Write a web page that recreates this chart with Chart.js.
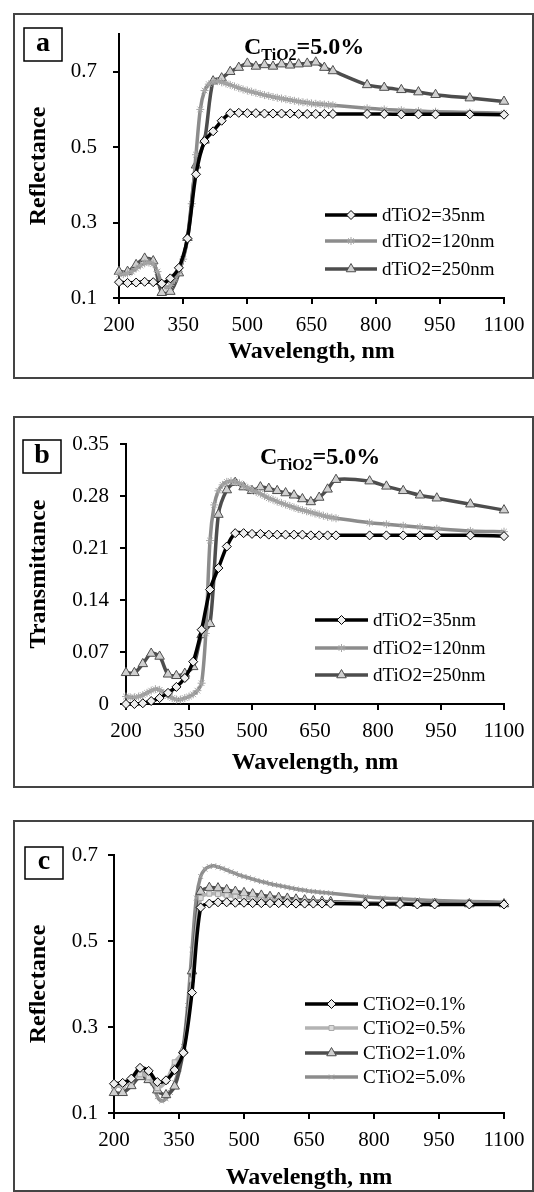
<!DOCTYPE html>
<html>
<head>
<meta charset="utf-8">
<script src="https://cdn.jsdelivr.net/npm/chart.js@4.4.1/dist/chart.umd.min.js"></script>
<style>
  body { margin: 0; background: #fff; }
  #page { position: relative; width: 534px; height: 1192px; overflow: hidden; }
  .frame { position: absolute; border: 2px solid #444; box-sizing: border-box; }
  canvas { position: absolute; left: 0; }
</style>
</head>
<body>
<div id="page">
  <div class="frame" style="left:13px;top:13px;width:521px;height:366px"></div>
  <div class="frame" style="left:13px;top:416px;width:521px;height:372px"></div>
  <div class="frame" style="left:13px;top:820px;width:521px;height:372px"></div>
  <canvas id="chartA" width="534" height="395" style="top:0"></canvas>
  <canvas id="chartB" width="534" height="405" style="top:395px"></canvas>
  <canvas id="chartC" width="534" height="392" style="top:800px"></canvas>
</div>
<script>
// wavelengths (nm)
const wl = [200, 220, 240, 260, 280, 300, 320, 340, 360, 380, 400, 420, 440, 460, 480, 500,
  520, 540, 560, 580, 600, 620, 640, 660, 680, 700, 780, 820, 860, 900, 940, 1020, 1100];
const wlFine = [200, 210, 220, 230, 240, 250, 260, 270, 280, 290, 300, 310, 320, 330, 340, 350,
  360, 370, 380, 390, 400, 410, 420, 430, 440, 450, 460, 470, 480, 490, 500, 510, 520, 530, 540,
  550, 560, 570, 580, 590, 600, 610, 620, 630, 640, 650, 660, 670, 680, 690, 700,
  780, 820, 860, 900, 940, 1020, 1100];
const xTicks = [200, 350, 500, 650, 800, 950, 1100];

// (a) reflectance, C = 5.0 %
const refl35 = [0.142, 0.140, 0.141, 0.143, 0.142, 0.138, 0.152, 0.180, 0.258, 0.428, 0.516, 0.542,
  0.570, 0.590, 0.591, 0.590, 0.590, 0.589, 0.589, 0.589, 0.589, 0.588, 0.588, 0.588, 0.588, 0.588,
  0.588, 0.588, 0.587, 0.587, 0.587, 0.587, 0.586];
const refl120 = [0.163, 0.163, 0.165, 0.170, 0.178, 0.186, 0.192, 0.194, 0.190, 0.170, 0.138, 0.128,
  0.133, 0.148, 0.170, 0.203, 0.255, 0.350, 0.480, 0.600, 0.650, 0.667, 0.673, 0.675, 0.672, 0.669,
  0.665, 0.661, 0.657, 0.653, 0.650, 0.647, 0.644, 0.641, 0.638, 0.636, 0.633, 0.631, 0.629, 0.627,
  0.625, 0.623, 0.621, 0.619, 0.618, 0.616, 0.615, 0.614, 0.613, 0.612, 0.611,
  0.603, 0.600, 0.598, 0.596, 0.594, 0.592, 0.590];
const refl250 = [0.170, 0.170, 0.188, 0.205, 0.198, 0.114, 0.117, 0.166, 0.260, 0.452, 0.518, 0.675,
  0.683, 0.700, 0.711, 0.722, 0.714, 0.718, 0.714, 0.720, 0.717, 0.720, 0.722, 0.725, 0.711, 0.702,
  0.665, 0.658, 0.652, 0.646, 0.639, 0.630, 0.621];

// (b) transmittance, C = 5.0 %
const trans35 = [0.000, 0.000, 0.001, 0.004, 0.008, 0.015, 0.023, 0.035, 0.057, 0.100, 0.154, 0.183,
  0.212, 0.230, 0.230, 0.229, 0.229, 0.228, 0.228, 0.228, 0.228, 0.228, 0.227, 0.227, 0.227, 0.227,
  0.227, 0.227, 0.227, 0.227, 0.227, 0.227, 0.226];
const trans120 = [0.010, 0.009, 0.009, 0.010, 0.012, 0.015, 0.018, 0.020, 0.019, 0.015, 0.011, 0.008,
  0.006, 0.006, 0.008, 0.010, 0.013, 0.018, 0.028, 0.095, 0.220, 0.268, 0.287, 0.295, 0.299, 0.300,
  0.299, 0.297, 0.294, 0.291, 0.288, 0.2855, 0.283, 0.280, 0.277, 0.275, 0.2725, 0.2705, 0.2685,
  0.2665, 0.2645, 0.2625, 0.261, 0.2595, 0.258, 0.2565, 0.255, 0.2535, 0.252, 0.251, 0.250,
  0.244, 0.242, 0.240, 0.238, 0.236, 0.233, 0.232];
const trans250 = [0.042, 0.042, 0.054, 0.068, 0.064, 0.040, 0.038, 0.041, 0.050, 0.093, 0.108, 0.255,
  0.288, 0.298, 0.292, 0.287, 0.292, 0.290, 0.287, 0.284, 0.281, 0.276, 0.272, 0.278, 0.289, 0.302,
  0.300, 0.293, 0.287, 0.281, 0.277, 0.269, 0.261];

// (c) reflectance for different concentrations (5.0 % is the same curve as refl120)
const reflC01 = [0.168, 0.170, 0.180, 0.205, 0.198, 0.172, 0.176, 0.200, 0.240, 0.380, 0.578, 0.587,
  0.590, 0.590, 0.589, 0.589, 0.588, 0.588, 0.588, 0.588, 0.588, 0.587, 0.587, 0.587, 0.587, 0.587,
  0.586, 0.586, 0.586, 0.585, 0.585, 0.585, 0.585];
const reflC05 = [0.162, 0.163, 0.175, 0.190, 0.183, 0.158, 0.174, 0.218, 0.245, 0.410, 0.600, 0.610,
  0.609, 0.606, 0.603, 0.600, 0.598, 0.596, 0.595, 0.593, 0.592, 0.591, 0.590, 0.590, 0.589, 0.589,
  0.588, 0.587, 0.587, 0.586, 0.586, 0.586, 0.586];
const reflC10 = [0.147, 0.147, 0.163, 0.184, 0.177, 0.153, 0.142, 0.162, 0.246, 0.430, 0.615, 0.624,
  0.623, 0.619, 0.615, 0.612, 0.609, 0.606, 0.603, 0.601, 0.599, 0.597, 0.595, 0.593, 0.592, 0.591,
  0.589, 0.588, 0.588, 0.587, 0.587, 0.586, 0.586];
const reflC50 = refl120;

const SERIF = "'Liberation Serif', 'Times New Roman', serif";

const sBlack = { line: '#000', marker: 'rectRot', r: 4.5, fill: '#eeeeee', edge: '#000' };
const sStar = { line: '#8c8c8c', marker: 'star', r: 4, fill: '#a6a6a6', edge: '#a6a6a6' };
const sTri = { line: '#4d4d4d', marker: 'triangle', r: 5.5, fill: '#d0d0d0', edge: '#4d4d4d' };
const sLight = { line: '#b3b3b3', marker: 'rect', r: 3.5, fill: '#dadada', edge: '#a8a8a8' };
const sCross = { line: '#8c8c8c', marker: 'crossRot', r: 3.5, fill: '#a0a0a0', edge: '#a0a0a0' };

function series(label, xs, ys, st) {
  return {
    label: label,
    data: xs.map((x, i) => ({ x: x, y: ys[i] })),
    borderColor: st.line, borderWidth: 3.5,
    pointStyle: st.marker, pointRadius: st.r, pointBorderWidth: 1,
    pointBackgroundColor: st.fill, pointBorderColor: st.edge,
    tension: 0.3, clip: false
  };
}

function marker(ctx, ds, x, y) {
  ctx.fillStyle = ds.pointBackgroundColor;
  ctx.strokeStyle = ds.pointBorderColor;
  ctx.lineWidth = ds.pointBorderWidth;
  Chart.helpers.drawPoint(ctx, { pointStyle: ds.pointStyle, radius: ds.pointRadius, rotation: 0, borderWidth: 1 }, x, y);
}

// letter box, heading with subscript, legend
const decor = {
  id: 'decor',
  afterDraw(chart, args, o) {
    const ctx = chart.ctx;
    const t = o.top;
    ctx.save();
    ctx.strokeStyle = '#000';
    ctx.lineWidth = 1.5;
    ctx.strokeRect(o.box[0], o.box[1] - t, o.box[2], o.box[3]);
    ctx.fillStyle = '#000';
    ctx.font = 'bold 28px ' + SERIF;
    ctx.textAlign = 'center';
    ctx.textBaseline = 'middle';
    ctx.fillText(o.letter, o.box[0] + o.box[2] / 2, o.box[1] - t + o.box[3] / 2 - 1);

    if (o.heading) {
      let x = o.heading.x;
      const y = o.heading.y - t;
      ctx.textAlign = 'left';
      ctx.textBaseline = 'alphabetic';
      ctx.font = 'bold 24px ' + SERIF;
      ctx.fillText('C', x, y);
      x += ctx.measureText('C').width;
      ctx.font = 'bold 16px ' + SERIF;
      ctx.fillText('TiO2', x, y + 6);
      x += ctx.measureText('TiO2').width;
      ctx.font = 'bold 24px ' + SERIF;
      ctx.fillText('=5.0%', x, y);
    }

    const lg = o.legend;
    chart.data.datasets.forEach((ds, i) => {
      const y = lg.rows[i] - t;
      ctx.strokeStyle = ds.borderColor;
      ctx.lineWidth = 3.5;
      ctx.beginPath();
      ctx.moveTo(lg.x0, y);
      ctx.lineTo(lg.x1, y);
      ctx.stroke();
      marker(ctx, ds, (lg.x0 + lg.x1) / 2, y);
      ctx.fillStyle = '#000';
      ctx.font = '19px ' + SERIF;
      ctx.textAlign = 'left';
      ctx.textBaseline = 'middle';
      ctx.fillText(ds.label, lg.tx, y + 1);
    });
    ctx.restore();
  }
};

function makePanel(id, p) {
  const canvas = document.getElementById(id);
  const H = canvas.height;
  const lh = 24 * 1.2;
  const tickFont = { family: SERIF, size: 21 };
  const titleFont = { family: SERIF, size: 24, weight: 'bold' };
  new Chart(canvas, {
    type: 'line',
    data: { datasets: p.datasets },
    options: {
      responsive: false,
      animation: false,
      events: [],
      layout: { padding: { left: 0, top: p.plotTop - p.top, right: 534 - p.plotRight, bottom: 0 } },
      plugins: {
        legend: { display: false },
        tooltip: { enabled: false },
        decor: Object.assign({ top: p.top }, p.decor)
      },
      scales: {
        x: {
          type: 'linear', min: 200, max: 1100,
          afterBuildTicks: s => { s.ticks = xTicks.map(v => ({ value: v })); },
          afterFit: s => { s.height = H - (p.plotBottom - p.top); },
          ticks: { font: tickFont, color: '#000', padding: 9, maxRotation: 0, autoSkip: false,
            callback: v => String(v) },
          grid: { drawOnChartArea: false, drawTicks: true, tickLength: 6, color: '#000', lineWidth: 2 },
          border: { color: '#000', width: 2 },
          title: {
            display: true, text: 'Wavelength, nm', font: titleFont, color: '#000',
            padding: { top: 0, bottom: H - (p.xTitleY - p.top) - lh / 2 }
          }
        },
        y: {
          type: 'linear', min: p.yMin, max: p.yMax,
          afterBuildTicks: s => { s.ticks = p.yTicks.map(v => ({ value: v })); },
          afterFit: s => { s.width = p.plotLeft; },
          ticks: { font: tickFont, color: '#000', padding: p.yPad, callback: p.yFmt },
          grid: { drawOnChartArea: false, drawTicks: true, tickLength: 6, color: '#000', lineWidth: 2 },
          border: { color: '#000', width: 2 },
          title: {
            display: true, text: p.yTitle, font: titleFont, color: '#000',
            padding: { top: 39 - lh / 2, bottom: 0 }
          }
        }
      }
    },
    plugins: [decor]
  });
}

makePanel('chartA', {
  top: 0, plotLeft: 119, plotRight: 504, plotTop: 34, plotBottom: 298, xTitleY: 352,
  yMin: 0.1, yMax: 0.8, yTicks: [0.1, 0.3, 0.5, 0.7], yPad: 16,
  yFmt: v => v.toFixed(1), yTitle: 'Reflectance',
  datasets: [
    series('dTiO2=35nm', wl, refl35, sBlack),
    series('dTiO2=120nm', wlFine, refl120, sStar),
    series('dTiO2=250nm', wl, refl250, sTri)
  ],
  decor: { letter: 'a', box: [24, 28, 38, 33], heading: { x: 244, y: 54 },
    legend: { x0: 325, x1: 377, tx: 382, rows: [215, 241, 269] } }
});

makePanel('chartB', {
  top: 395, plotLeft: 126, plotRight: 504, plotTop: 444, plotBottom: 704, xTitleY: 763,
  yMin: 0, yMax: 0.35, yTicks: [0, 0.07, 0.14, 0.21, 0.28, 0.35], yPad: 11,
  yFmt: v => (v === 0 ? '0' : v.toFixed(2)), yTitle: 'Transmittance',
  datasets: [
    series('dTiO2=35nm', wl, trans35, sBlack),
    series('dTiO2=120nm', wlFine, trans120, sStar),
    series('dTiO2=250nm', wl, trans250, sTri)
  ],
  decor: { letter: 'b', box: [23, 440, 38, 33], heading: { x: 260, y: 464 },
    legend: { x0: 315, x1: 368, tx: 373, rows: [620, 648, 675] } }
});

makePanel('chartC', {
  top: 800, plotLeft: 114, plotRight: 504, plotTop: 855, plotBottom: 1113, xTitleY: 1178,
  yMin: 0.1, yMax: 0.7, yTicks: [0.1, 0.3, 0.5, 0.7], yPad: 10,
  yFmt: v => v.toFixed(1), yTitle: 'Reflectance',
  datasets: [
    series('CTiO2=0.1%', wl, reflC01, sBlack),
    series('CTiO2=0.5%', wl, reflC05, sLight),
    series('CTiO2=1.0%', wl, reflC10, sTri),
    series('CTiO2=5.0%', wlFine, reflC50, sCross)
  ],
  decor: { letter: 'c', box: [25, 847, 38, 32], heading: null,
    legend: { x0: 305, x1: 358, tx: 363, rows: [1004, 1028, 1053, 1077] } }
});
</script>
</body>
</html>
